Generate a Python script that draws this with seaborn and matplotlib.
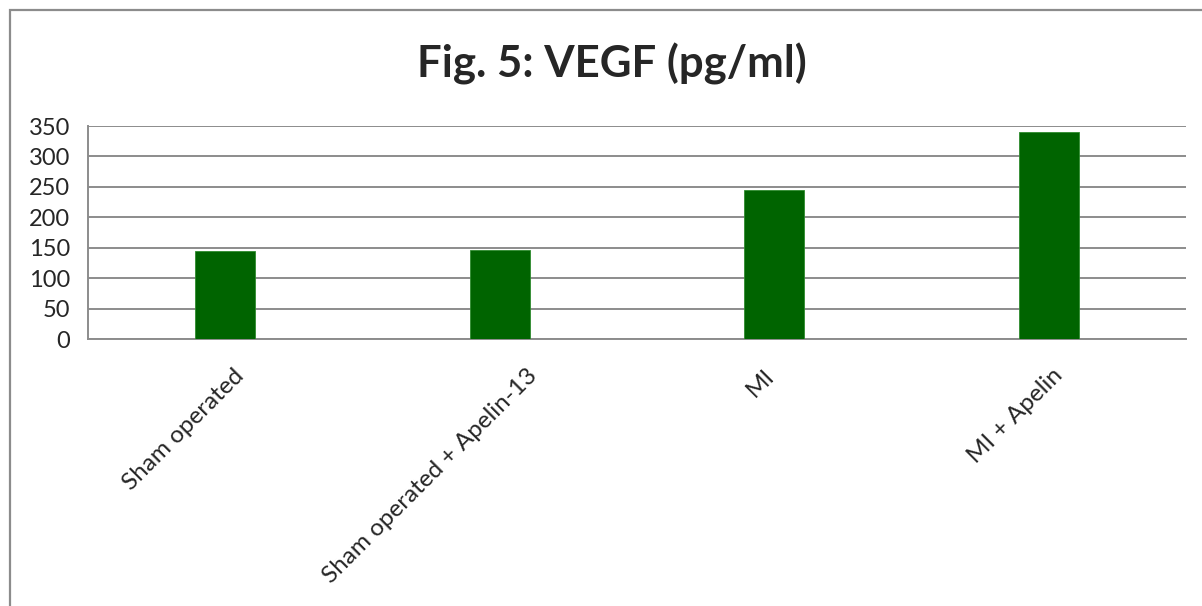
import matplotlib
matplotlib.use("Agg")
import matplotlib.pyplot as plt
import seaborn as sns
import pandas as pd
from matplotlib.patches import Rectangle

# Chart data
groups = ["Sham operated", "Sham operated + Apelin-13", "MI", "MI + Apelin"]
vegf = [145, 147, 245, 340]
y_ticks = [0, 50, 100, 150, 200, 250, 300, 350]

df = pd.DataFrame({"group": groups, "vegf": vegf})

sns.set_style("white")
plt.rcParams["font.family"] = ["Lato", "DejaVu Sans"]

fig = plt.figure(figsize=(12.02, 6.06), dpi=100)
ax = fig.add_axes([88 / 1202, 1 - 339 / 606, (1186 - 88) / 1202, (339 - 126) / 606])

sns.barplot(data=df, x="group", y="vegf", color="#006400", width=0.22,
            saturation=1, edgecolor="#2e8b2e", linewidth=0.6, ax=ax, zorder=3)

ax.set_ylim(0, 350)
ax.set_yticks(y_ticks)
ax.set_yticklabels([str(t) for t in y_ticks], fontsize=17)
ax.set_xlabel("")
ax.set_ylabel("")
ax.yaxis.grid(True, color="#8c8c8c", linewidth=1.4, zorder=0)
ax.set_axisbelow(True)
ax.tick_params(axis="both", length=0)
ax.tick_params(axis="y", pad=13)
ax.set_xticklabels([])

for side in ["top", "right"]:
    ax.spines[side].set_visible(False)
for side in ["left", "bottom"]:
    ax.spines[side].set_color("#8c8c8c")
    ax.spines[side].set_linewidth(1.4)

# rotated category labels, Excel-like placement
labels = []
for i, name in enumerate(groups):
    t = ax.annotate(name, xy=(i, 0), xycoords=ax.get_xaxis_transform(),
                    xytext=(0, -24), textcoords="offset points",
                    rotation=45, ha="right", va="center",
                    rotation_mode="anchor", fontsize=17.5)
    labels.append(t)

fig.canvas.draw()
for t in labels:
    w = t.get_window_extent().width  # pixels
    shift = (0.2 * w - 10) * 72 / fig.dpi
    t.xyann = (shift, -24)

fig.text(0.509, 0.895, "Fig. 5: VEGF (pg/ml)", ha="center", va="center",
         fontsize=31.5, fontweight="bold")

# outer chart frame
fig.patches.append(Rectangle((10 / 1202, -0.1), 1.1, 1.1 - 10 / 606,
                             transform=fig.transFigure, fill=False,
                             edgecolor="#8c8c8c", linewidth=1.6))

fig.savefig("out.png", dpi=100)
